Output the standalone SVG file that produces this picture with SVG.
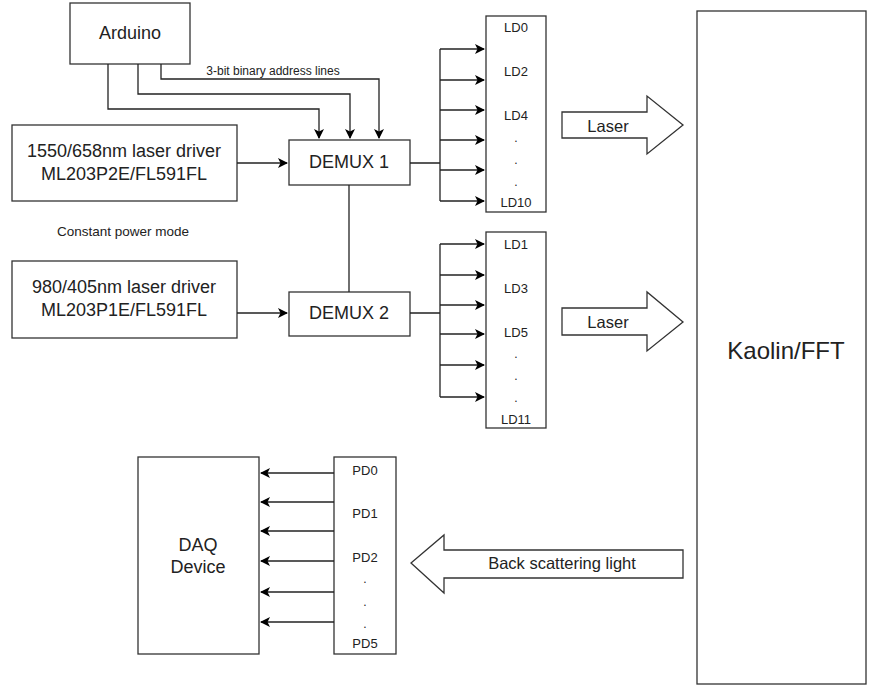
<svg xmlns="http://www.w3.org/2000/svg" width="869" height="686" viewBox="0 0 869 686">
<defs>
<marker id="ah" viewBox="0 0 10 10" refX="9" refY="5" markerWidth="10" markerHeight="10" markerUnits="userSpaceOnUse" orient="auto">
<path d="M0,0 L10,5 L0,10 L2.5,5 Z" fill="#000"/>
</marker>
<style>
.box{fill:#fff;stroke:#333;stroke-width:1.3}
.ln{fill:none;stroke:#222;stroke-width:1.3}
.t{font-family:"Liberation Sans",Arial,sans-serif;fill:#222;text-anchor:middle;dominant-baseline:central}
.big{font-size:18px}
.mid{font-size:16.5px}
.sm{font-size:13px}
.xs{font-size:12px}
</style>
</defs>
<rect width="869" height="686" fill="#fff"/>
<g id="arduino"><rect class="box" x="70" y="3" width="120" height="61"/><text class="t big" x="130" y="33">Arduino</text></g>
<g id="driver1"><rect class="box" x="12" y="125" width="225" height="76"/><text class="t big" x="124" y="151">1550/658nm laser driver</text><text class="t big" x="124" y="174">ML203P2E/FL591FL</text></g>
<g id="driver2"><rect class="box" x="12" y="261" width="225" height="77"/><text class="t big" x="124" y="287">980/405nm laser driver</text><text class="t big" x="124" y="310">ML203P1E/FL591FL</text></g>
<g id="cpm"><text class="t" style="font-size:13.5px" x="123" y="231">Constant power mode</text></g>
<g id="demux1"><rect class="box" x="289" y="140" width="121" height="45"/><text class="t big" x="349" y="162">DEMUX 1</text></g>
<g id="demux2"><rect class="box" x="289" y="292" width="121" height="44"/><text class="t big" x="349" y="313">DEMUX 2</text></g>
<g id="ld-even"><rect class="box" x="486" y="16" width="60" height="196"/>
<text class="t sm" x="516" y="27">LD0</text><text class="t sm" x="516" y="71">LD2</text><text class="t sm" x="516" y="115">LD4</text>
<text class="t xs" x="516" y="138">.</text><text class="t xs" x="516" y="160">.</text><text class="t xs" x="516" y="182">.</text>
<text class="t sm" x="516" y="202">LD10</text></g>
<g id="ld-odd"><rect class="box" x="486" y="232" width="60" height="196"/>
<text class="t sm" x="516" y="244">LD1</text><text class="t sm" x="516" y="288">LD3</text><text class="t sm" x="516" y="332">LD5</text>
<text class="t xs" x="516" y="354">.</text><text class="t xs" x="516" y="376">.</text><text class="t xs" x="516" y="398">.</text>
<text class="t sm" x="516" y="419">LD11</text></g>
<g id="kaolin"><rect class="box" x="697" y="11" width="169" height="673"/><text class="t" style="font-size:24px" x="786" y="350">Kaolin/FFT</text></g>
<g id="daq"><rect class="box" x="138" y="457" width="121" height="197"/><text class="t big" x="198" y="545">DAQ</text><text class="t big" x="198" y="567">Device</text></g>
<g id="pd"><rect class="box" x="334" y="457" width="62" height="197"/>
<text class="t sm" x="365" y="470">PD0</text><text class="t sm" x="365" y="513">PD1</text><text class="t sm" x="365" y="557">PD2</text>
<text class="t xs" x="365" y="579">.</text><text class="t xs" x="365" y="602">.</text><text class="t xs" x="365" y="624">.</text>
<text class="t sm" x="365" y="643">PD5</text></g>
<g id="laser1"><path class="box" d="M562,112 L647,112 L647,96 L683,125 L647,154 L647,138 L562,138 Z"/><text class="t mid" x="608" y="126">Laser</text></g>
<g id="laser2"><path class="box" d="M562,308 L647,308 L647,292 L683,322 L647,351 L647,335 L562,335 Z"/><text class="t mid" x="608" y="322">Laser</text></g>
<g id="backscatter"><path class="box" d="M683,550 L444,550 L444,535 L411,563 L444,593 L444,578 L683,578 Z"/><text class="t mid" x="562" y="563">Back scattering light</text></g>
<g id="connectors">
<path class="ln" d="M108,64 V109 H319 V138" marker-end="url(#ah)"/>
<path class="ln" d="M138,64 V94 H350 V138" marker-end="url(#ah)"/>
<path class="ln" d="M161,64 V79 H379 V138" marker-end="url(#ah)"/>
<text class="t xs" x="273" y="71">3-bit binary address lines</text>
<path class="ln" d="M237,163 H287" marker-end="url(#ah)"/>
<path class="ln" d="M237,313 H287" marker-end="url(#ah)"/>
<path class="ln" d="M349,185 V292"/>
<path class="ln" d="M410,163 H440 M440,49 V201 M410,313 H440 M440,244 V397"/>
<path class="ln" d="M440,49 H484" marker-end="url(#ah)"/>
<path class="ln" d="M440,80 H484" marker-end="url(#ah)"/>
<path class="ln" d="M440,110 H484" marker-end="url(#ah)"/>
<path class="ln" d="M440,140 H484" marker-end="url(#ah)"/>
<path class="ln" d="M440,170 H484" marker-end="url(#ah)"/>
<path class="ln" d="M440,201 H484" marker-end="url(#ah)"/>
<path class="ln" d="M440,244 H484" marker-end="url(#ah)"/>
<path class="ln" d="M440,275 H484" marker-end="url(#ah)"/>
<path class="ln" d="M440,305 H484" marker-end="url(#ah)"/>
<path class="ln" d="M440,334 H484" marker-end="url(#ah)"/>
<path class="ln" d="M440,365 H484" marker-end="url(#ah)"/>
<path class="ln" d="M440,397 H484" marker-end="url(#ah)"/>
<path class="ln" d="M334,473 H261" marker-end="url(#ah)"/>
<path class="ln" d="M334,502 H261" marker-end="url(#ah)"/>
<path class="ln" d="M334,531 H261" marker-end="url(#ah)"/>
<path class="ln" d="M334,561 H261" marker-end="url(#ah)"/>
<path class="ln" d="M334,592 H261" marker-end="url(#ah)"/>
<path class="ln" d="M334,622 H261" marker-end="url(#ah)"/>
</g>
</svg>
